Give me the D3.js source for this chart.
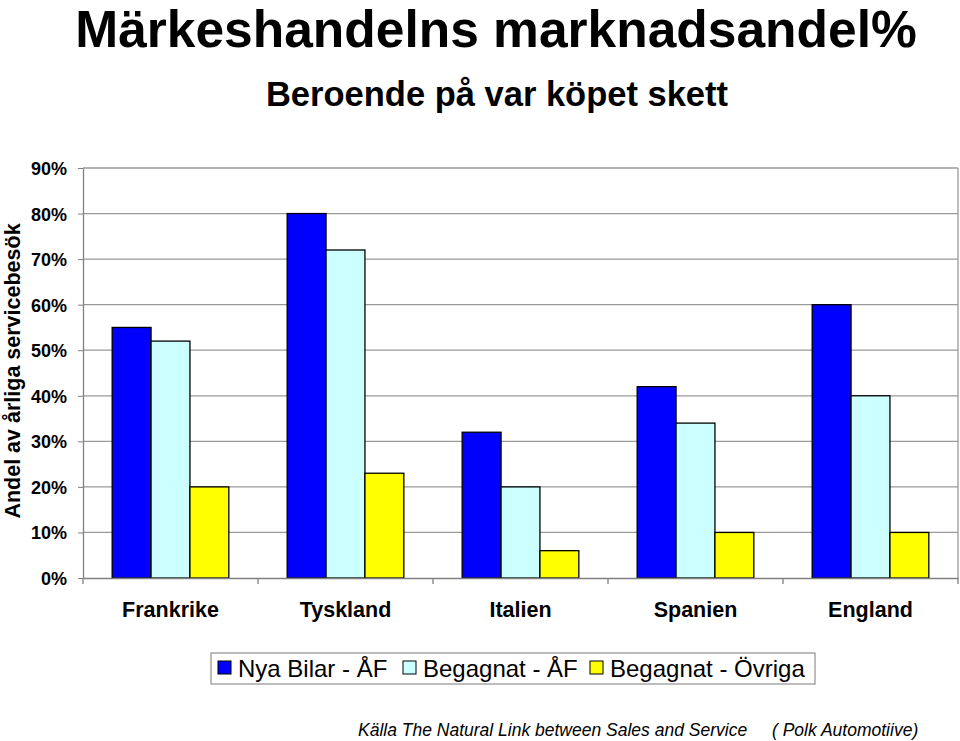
<!DOCTYPE html>
<html><head><meta charset="utf-8">
<script src="https://cdn.jsdelivr.net/npm/d3@7"></script>
<style>body{margin:0;background:#fff;} svg{display:block;font-family:"Liberation Sans",Arial,sans-serif;}</style>
</head><body><svg id="c" width="960" height="741"></svg>
<script>
const categories = ["Frankrike","Tyskland","Italien","Spanien","England"];
const seriesNames = ["Nya Bilar - ÅF","Begagnat - ÅF","Begagnat - Övriga"];
const nyaBilarAF = [55,80,32,42,60];
const begagnatAF = [52,72,20,34,40];
const begagnatOvriga = [20,23,6,10,10];
const yTicks = [0,10,20,30,40,50,60,70,80,90];
const colors = ["#0000FF","#CCFFFF","#FFFF00"];
const series = [nyaBilarAF, begagnatAF, begagnatOvriga];

const svg = d3.select("#c");
const L = 83, R = 958, T = 168, B = 578;
const x = d3.scaleBand().domain(categories).range([L,R]).paddingInner(0).paddingOuter(0);
const y = d3.scaleLinear().domain([0,90]).range([B,T]);
const bw = x.bandwidth()/4.5;

// gridlines
svg.append("g").selectAll("line").data(yTicks.filter(d=>d>0)).join("line")
  .attr("x1",L).attr("x2",R).attr("y1",d=>y(d)).attr("y2",d=>y(d))
  .attr("stroke","#9a9a9a").attr("stroke-width",1.3);
// right border
svg.append("line").attr("x1",R).attr("x2",R).attr("y1",T).attr("y2",B).attr("stroke","#9a9a9a").attr("stroke-width",1.3);

// bars
categories.forEach((c,i)=>{
  series.forEach((s,j)=>{
    svg.append("rect")
      .attr("x", x(c) + bw*0.75 + j*bw)
      .attr("y", y(s[i]))
      .attr("width", bw)
      .attr("height", y(0)-y(s[i]))
      .attr("fill", colors[j]).attr("stroke","#000").attr("stroke-width",1.3);
  });
});

// axes
const yAxis = svg.append("g").attr("transform",`translate(${L},0)`)
  .call(d3.axisLeft(y).tickValues(yTicks).tickSize(5).tickSizeOuter(0).tickFormat(d=>d+"%"));
yAxis.select(".domain").attr("stroke","#808080").attr("stroke-width",1.3);
yAxis.selectAll(".tick line").attr("stroke","#808080");
yAxis.selectAll("text").attr("font-size",18).attr("font-weight","bold").attr("fill","#000").attr("x",-16).attr("dy","0.36em");

const xAxis = svg.append("g").attr("transform",`translate(0,${B})`)
  .call(d3.axisBottom(x).tickSize(0).tickSizeOuter(0));
xAxis.select(".domain").attr("stroke","#808080").attr("stroke-width",1.3);
xAxis.selectAll(".tick line").remove();
xAxis.selectAll("text").attr("font-size",21.5).attr("font-weight","bold").attr("fill","#000").attr("y",39).attr("dy",0);
// category separators
svg.append("g").selectAll("line").data(categories).join("line")
  .attr("x1",d=>x(d)).attr("x2",d=>x(d)).attr("y1",B).attr("y2",B+6).attr("stroke","#808080").attr("stroke-width",1.3);
svg.append("line").attr("x1",R).attr("x2",R).attr("y1",B).attr("y2",B+6).attr("stroke","#808080").attr("stroke-width",1.3);

// titles
svg.append("text").attr("x",496).attr("y",47).attr("text-anchor","middle")
  .attr("font-size",51.5).attr("font-weight","bold").text("Märkeshandelns marknadsandel%");
svg.append("text").attr("x",497).attr("y",106).attr("text-anchor","middle")
  .attr("font-size",34.5).attr("font-weight","bold").text("Beroende på var köpet skett");
svg.append("text").attr("transform","translate(20,371) rotate(-90)").attr("text-anchor","middle")
  .attr("font-size",21.5).attr("font-weight","bold").text("Andel av årliga servicebesök");

// legend
const lg = svg.append("g");
lg.append("rect").attr("x",211).attr("y",653).attr("width",604).attr("height",31)
  .attr("fill","#fff").attr("stroke","#909090").attr("stroke-width",1.2);
const lx = [218, 403, 590];
seriesNames.forEach((n,j)=>{
  lg.append("rect").attr("x",lx[j]).attr("y",661).attr("width",13).attr("height",13)
    .attr("fill",colors[j]).attr("stroke","#000").attr("stroke-width",1);
  lg.append("text").attr("x",lx[j]+20).attr("y",677).attr("font-size",24).text(n);
});

// source
svg.append("text").attr("x",358).attr("y",736).attr("font-size",17.5).attr("font-style","italic")
  .text("Källa The Natural Link between Sales and Service");
svg.append("text").attr("x",772).attr("y",736).attr("font-size",17.5).attr("font-style","italic")
  .text("( Polk Automotiive)");
</script></body></html>
